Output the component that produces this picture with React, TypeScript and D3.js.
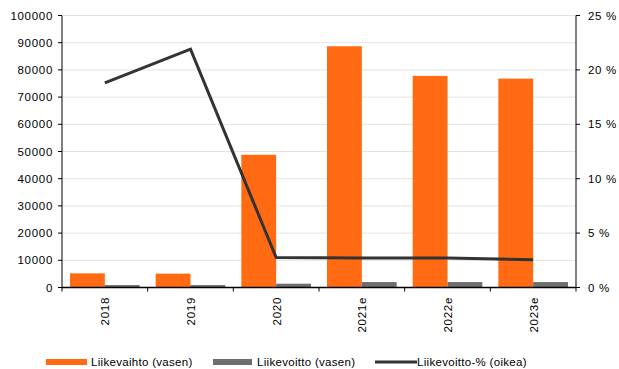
import React, { useEffect, useRef } from "react";
import * as d3 from "d3";

const categories = ["2018", "2019", "2020", "2021e", "2022e", "2023e"];
const liikevaihto = [5200, 5100, 48800, 88700, 77800, 76800];
const liikevoitto = [900, 900, 1400, 2000, 2000, 2000];
const liikevoittoPct = [18.8, 21.9, 2.75, 2.7, 2.7, 2.55];
const leftTicks = [0, 10000, 20000, 30000, 40000, 50000, 60000, 70000, 80000, 90000, 100000];
const rightTicks = [0, 5, 10, 15, 20, 25];

const W = 619;
const H = 369;
const ORANGE = "#FF6A13";
const GRAY = "#6E6E6E";
const LINE = "#333333";
const FONT = "'Liberation Sans', Arial, sans-serif";

export default function App() {
  const ref = useRef<SVGSVGElement>(null);

  useEffect(() => {
    const svg = d3.select(ref.current);
    svg.selectAll("*").remove();

    const left = 62, right = 576, top = 15.5, bottom = 287.5;

    const x = d3.scaleBand<string>().domain(categories).range([left, right]);
    const inner = d3.scaleBand<string>().domain(["a", "b"]).range([0, x.bandwidth()]).paddingOuter(0.23).paddingInner(0);
    const yL = d3.scaleLinear().domain([0, 100000]).range([bottom, top]);
    const yR = d3.scaleLinear().domain([0, 25]).range([bottom, top]);

    // gridlines
    svg.append("g").selectAll("line").data(leftTicks.slice(1)).join("line")
      .attr("x1", left).attr("x2", right)
      .attr("y1", d => yL(d)).attr("y2", d => yL(d))
      .attr("stroke", "#E3E3E3").attr("stroke-width", 1);

    // bars
    const g = svg.append("g");
    g.selectAll("rect.lv").data(categories).join("rect")
      .attr("x", (c) => x(c)! + inner("a")!)
      .attr("width", inner.bandwidth())
      .attr("y", (_, i) => yL(liikevaihto[i]))
      .attr("height", (_, i) => bottom - yL(liikevaihto[i]))
      .attr("fill", ORANGE);
    g.selectAll("rect.lo").data(categories).join("rect")
      .attr("class", "lo")
      .attr("x", (c) => x(c)! + inner("b")!)
      .attr("width", inner.bandwidth())
      .attr("y", (_, i) => yL(liikevoitto[i]))
      .attr("height", (_, i) => bottom - yL(liikevoitto[i]))
      .attr("fill", GRAY);

    // line on right axis
    const line = d3.line<number>()
      .x((_, i) => x(categories[i])! + x.bandwidth() / 2)
      .y(d => yR(d));
    svg.append("path").datum(liikevoittoPct)
      .attr("d", line)
      .attr("fill", "none").attr("stroke", LINE).attr("stroke-width", 3)
      .attr("stroke-linejoin", "miter");

    // left axis
    const la = svg.append("g");
    la.append("line").attr("x1", left).attr("x2", left).attr("y1", top).attr("y2", bottom).attr("stroke", "#000");
    la.selectAll("line.t").data(leftTicks).join("line")
      .attr("x1", left - 4).attr("x2", left)
      .attr("y1", d => yL(d)).attr("y2", d => yL(d)).attr("stroke", "#000");
    la.selectAll("text").data(leftTicks).join("text")
      .attr("x", 53).attr("y", d => yL(d)).attr("dy", "0.35em")
      .attr("text-anchor", "end").attr("font-family", FONT).attr("font-size", 11.5)
      .attr("letter-spacing", 0.7).attr("fill", "#000")
      .text(d => String(d));

    // right axis
    const ra = svg.append("g");
    ra.append("line").attr("x1", right).attr("x2", right).attr("y1", top).attr("y2", bottom).attr("stroke", "#555").attr("stroke-width", 1.5);
    ra.selectAll("line.t").data(rightTicks).join("line")
      .attr("x1", right).attr("x2", right + 4)
      .attr("y1", d => yR(d)).attr("y2", d => yR(d)).attr("stroke", "#000");
    ra.selectAll("text").data(rightTicks).join("text")
      .attr("x", 588).attr("y", d => yR(d)).attr("dy", "0.35em")
      .attr("text-anchor", "start").attr("font-family", FONT).attr("font-size", 11.5)
      .attr("letter-spacing", 0.7).attr("fill", "#000")
      .text(d => `${d} %`);

    // x axis
    const xa = svg.append("g");
    xa.append("line").attr("x1", left).attr("x2", right).attr("y1", bottom).attr("y2", bottom).attr("stroke", "#000").attr("stroke-width", 1.5);
    const bounds = categories.map(c => x(c)!).concat([right]);
    xa.selectAll("line.t").data(bounds).join("line")
      .attr("x1", d => d).attr("x2", d => d)
      .attr("y1", bottom).attr("y2", bottom + 4).attr("stroke", "#000");
    xa.selectAll("text").data(categories).join("text")
      .attr("transform", c => `translate(${x(c)! + x.bandwidth() / 2 + 4.5},297) rotate(-90)`)
      .attr("text-anchor", "end").attr("font-family", FONT).attr("font-size", 11.5)
      .attr("letter-spacing", 0.7).attr("fill", "#000")
      .text(c => c);

    // legend
    const lg = svg.append("g").attr("font-family", FONT).attr("font-size", 11.5).attr("letter-spacing", 0.3);
    const ly = 362;
    lg.append("rect").attr("x", 46).attr("y", ly - 3).attr("width", 41).attr("height", 6).attr("fill", ORANGE);
    lg.append("text").attr("x", 91).attr("y", ly).attr("dy", "0.35em").text("Liikevaihto (vasen)");
    lg.append("rect").attr("x", 213).attr("y", ly - 3).attr("width", 39).attr("height", 6).attr("fill", GRAY);
    lg.append("text").attr("x", 257).attr("y", ly).attr("dy", "0.35em").text("Liikevoitto (vasen)");
    lg.append("line").attr("x1", 375).attr("x2", 417).attr("y1", ly).attr("y2", ly).attr("stroke", LINE).attr("stroke-width", 3);
    lg.append("text").attr("x", 417).attr("y", ly).attr("dy", "0.35em").text("Liikevoitto-% (oikea)");
  }, []);

  return (
    <svg ref={ref} width={W} height={H} style={{ position: "absolute", left: 0, top: 0, background: "#fff" }} />
  );
}
